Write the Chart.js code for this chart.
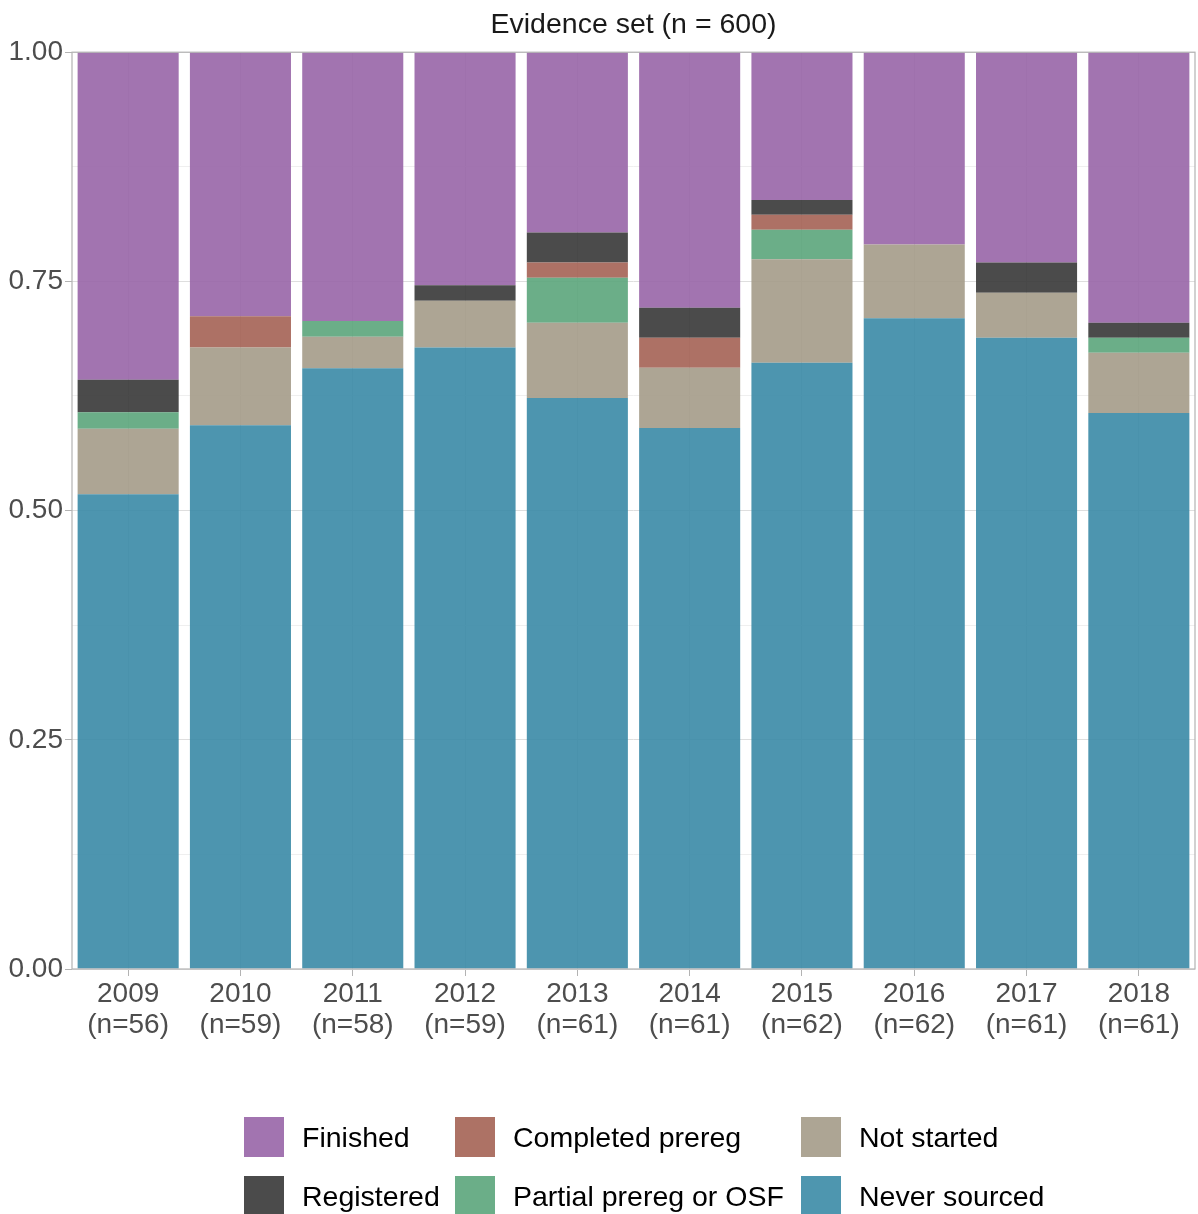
<!DOCTYPE html>
<html>
<head>
<meta charset="utf-8">
<script src="https://cdn.jsdelivr.net/npm/chart.js@4/dist/chart.umd.min.js"></script>
<style>
  body { margin: 0; background: #fff; font-family: "Liberation Sans", Arial, sans-serif; }
  #wrap { position: relative; width: 1198px; height: 1214px; overflow: hidden; }
  #chart { position: absolute; left: 0; top: 0; }
  #legend { position: absolute; left: 244px; top: 1117px; display: grid;
            grid-template-columns: 211px 346px auto; grid-auto-flow: column;
            grid-template-rows: 59px 59px; }
  .item { display: flex; align-items: flex-start; font-size: 28.5px; color: #000; }
  .swatch { width: 40px; height: 40px; margin-right: 18px; flex: none; }
  .item span { line-height: 40px; white-space: nowrap; }
</style>
</head>
<body>
<div id="wrap">
  <canvas id="chart" width="1198" height="1214"></canvas>
  <div id="legend"></div>
</div>
<script>
const years = ["2009", "2010", "2011", "2012", "2013", "2014", "2015", "2016", "2017", "2018"];
const nTotals = [56, 59, 58, 59, 61, 61, 62, 62, 61, 61];

// counts per year
const neverSourced = [29, 35, 38, 40, 38, 36, 41, 44, 42, 37];
const notStarted = [4, 5, 2, 3, 5, 4, 7, 5, 3, 4];
const partialPrereg = [1, 0, 1, 0, 3, 0, 2, 0, 0, 1];
const completedPrereg = [0, 2, 0, 0, 1, 2, 1, 0, 0, 0];
const registered = [2, 0, 0, 1, 2, 2, 1, 0, 2, 1];
const finished = [20, 17, 17, 15, 12, 17, 10, 13, 14, 18];

function share(counts) {
    return counts.map((c, i) => c / nTotals[i]);
}

// bottom to top
const series = [
    { label: "Never sourced", data: neverSourced, color: "rgba(58,138,166,0.9)", swatch: "#4e96af" },
    { label: "Not started", data: notStarted, color: "rgba(164,155,136,0.9)", swatch: "#ada594" },
    { label: "Partial prereg or OSF", data: partialPrereg, color: "rgba(91,165,123,0.9)", swatch: "#6bae88" },
    { label: "Completed prereg", data: completedPrereg, color: "rgba(164,98,84,0.9)", swatch: "#ad7265" },
    { label: "Registered", data: registered, color: "rgba(55,55,55,0.9)", swatch: "#4b4b4b" },
    { label: "Finished", data: finished, color: "rgba(152,101,167,0.9)", swatch: "#a274b0" }
];

const legendOrder = ["Finished", "Registered", "Completed prereg", "Partial prereg or OSF", "Not started", "Never sourced"];

const labels = years.map((y, i) => [y, "(n=" + nTotals[i] + ")"]);

const isMajor = v => Math.abs(v * 4 - Math.round(v * 4)) < 1e-9;

const panelBorder = {
    id: "panelBorder",
    afterDraw(chart) {
        const a = chart.chartArea;
        const ctx = chart.ctx;
        ctx.save();
        ctx.strokeStyle = "#b3b3b3";
        ctx.lineWidth = 1.2;
        ctx.strokeRect(a.left, a.top, a.right - a.left, a.bottom - a.top);
        ctx.restore();
    }
};

new Chart(document.getElementById("chart"), {
    type: "bar",
    data: {
        labels: labels,
        datasets: series.map(s => ({
            label: s.label,
            data: share(s.data),
            backgroundColor: s.color,
            borderWidth: 0,
            barPercentage: 0.9,
            categoryPercentage: 1.0
        }))
    },
    options: {
        responsive: false,
        animation: false,
        layout: { padding: { top: 6, right: 3, left: 0, bottom: 0 } },
        plugins: {
            legend: { display: false },
            tooltip: { enabled: false },
            title: {
                display: true,
                text: "Evidence set (n = 600)",
                fullSize: false,
                color: "#1a1a1a",
                font: { family: "Liberation Sans", size: 28.5, weight: "normal" },
                padding: { top: 2, bottom: 10 }
            }
        },
        scales: {
            x: {
                stacked: true,
                afterFit: s => { s.height = 245; },
                grid: { offset: false, color: "#dedede", tickColor: "#b3b3b3", tickLength: 7, lineWidth: 1 },
                border: { display: false },
                ticks: {
                    color: "#4d4d4d",
                    padding: 3,
                    maxRotation: 0,
                    autoSkip: false,
                    font: { family: "Liberation Sans", size: 28, lineHeight: 1.11 }
                }
            },
            y: {
                stacked: true,
                min: 0,
                max: 1,
                afterFit: s => { s.width = 72; },
                grid: {
                    color: ctx => isMajor(ctx.tick.value) ? "#dedede" : "#efefef",
                    tickColor: ctx => isMajor(ctx.tick.value) ? "#b3b3b3" : "rgba(0,0,0,0)",
                    tickLength: 7,
                    lineWidth: 1
                },
                border: { display: false },
                ticks: {
                    stepSize: 0.125,
                    color: "#4d4d4d",
                    padding: 2,
                    font: { family: "Liberation Sans", size: 28 },
                    callback: v => isMajor(v) ? v.toFixed(2) : ""
                }
            }
        }
    },
    plugins: [panelBorder]
});

// legend, filled column by column like the original
const legendBox = document.getElementById("legend");
legendOrder.forEach(name => {
    const s = series.find(d => d.label === name);
    const item = document.createElement("div");
    item.className = "item";
    item.innerHTML = '<div class="swatch" style="background:' + s.swatch + '"></div><span>' + s.label + "</span>";
    legendBox.appendChild(item);
});
</script>
</body>
</html>
